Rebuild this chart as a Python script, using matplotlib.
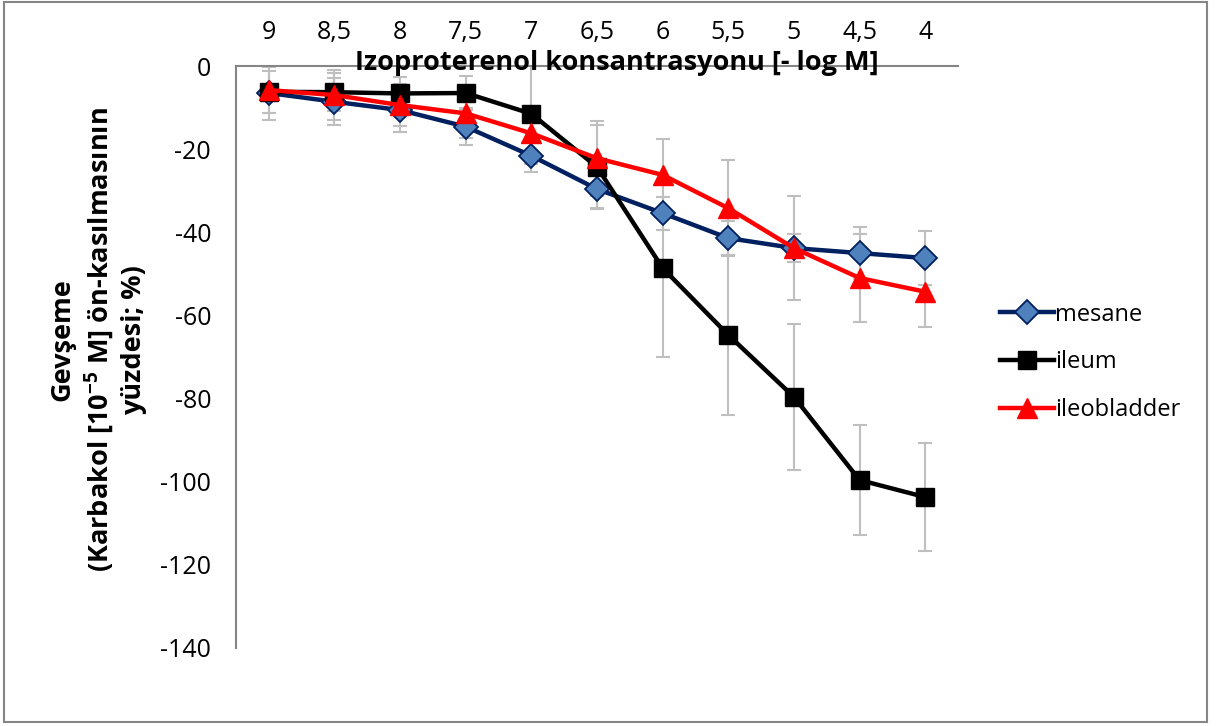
import numpy as np
import matplotlib
matplotlib.use("Agg")
import matplotlib.pyplot as plt
from matplotlib.patches import Rectangle

plt.rcParams['font.family'] = ['Open Sans', 'DejaVu Sans']
plt.rcParams['axes.unicode_minus'] = False
plt.rcParams['mathtext.fontset'] = 'custom'
plt.rcParams['mathtext.rm'] = 'Open Sans'
plt.rcParams['mathtext.bf'] = 'Open Sans:bold'
plt.rcParams['mathtext.default'] = 'bf'

conc_labels = ['9', '8,5', '8', '7,5', '7', '6,5', '6', '5,5', '5', '4,5', '4']

mesane = [-6.5, -8.6, -10.6, -14.6, -21.6, -29.6, -35.4, -41.4, -43.8, -45.0, -46.2]
mesane_err = [6.5, 5.6, 5.3, 4.5, 4.0, 4.5, 4.0, 4.0, 3.3, 6.3, 6.5]

ileum = [-6.2, -6.3, -6.6, -6.5, -11.5, -24.3, -48.6, -64.7, -79.6, -99.6, -103.7]
ileum_err = [5.0, 4.5, 4.0, 4.0, 12.0, 10.0, 21.4, 19.3, 17.6, 13.2, 13.0]

ileobladder = [-5.8, -7.0, -9.4, -11.4, -16.2, -22.2, -26.2, -34.2, -43.8, -51.0, -54.3]
ileobladder_err = [5.5, 6.0, 5.0, 6.0, 6.0, 9.0, 8.6, 11.6, 12.5, 10.7, 8.5]

x = np.arange(1, len(conc_labels) + 1)

fig = plt.figure(figsize=(12.17, 7.26), dpi=100)
ax = fig.add_axes([236 / 1217, 1 - 648 / 726, 722 / 1217, 582 / 726])

err_color = '#BFBFBF'
for vals, errs in [(mesane, mesane_err), (ileum, ileum_err), (ileobladder, ileobladder_err)]:
    ax.errorbar(x, vals, yerr=errs, fmt='none', ecolor=err_color, elinewidth=1.5,
                capsize=5, capthick=1.5, zorder=1)

ax.plot(x, mesane, color='#002060', lw=3.2, marker='D', ms=12,
        mfc='#4F81BD', mec='#002060', mew=1.3, label='mesane', zorder=3)
ax.plot(x, ileum, color='black', lw=3.2, marker='s', ms=13,
        mfc='black', mec='black', label='ileum', zorder=4)
ax.plot(x, ileobladder, color='#FF0000', lw=3.2, marker='^', ms=14,
        mfc='#FF0000', mec='#FF0000', label='ileobladder', zorder=5)

ax.set_xlim(0.5, 11.5)
ax.set_ylim(-140, 0)
ax.set_yticks(np.arange(-140, 1, 20))
ax.set_xticks(x)
ax.set_xticklabels(conc_labels)
ax.xaxis.tick_top()
ax.tick_params(axis='both', length=0, labelsize=18)
ax.tick_params(axis='x', pad=15)
ax.tick_params(axis='y', pad=18)

for side in ['bottom', 'right']:
    ax.spines[side].set_visible(False)
for side in ['left', 'top']:
    ax.spines[side].set_color('#868686')
    ax.spines[side].set_linewidth(1.5)

fig.text(617 / 1217, 1 - 63 / 726, 'Izoproterenol konsantrasyonu [- log M]',
         ha='center', va='center', fontsize=19.5, fontweight='bold', zorder=10)

fig.text(98 / 1217, 1 - 340 / 726,
         'Gevşeme\n(Karbakol [10$^{-5}$ M] ön-kasılmasının\nyüzdesi; %)',
         ha='center', va='center', rotation=90, fontsize=19.5, fontweight='bold',
         multialignment='center', linespacing=1.25)

leg = ax.legend(loc='center left', bbox_to_anchor=(1.045, 0.491), frameon=False,
                fontsize=17, handlelength=2.3, handletextpad=0.05, labelspacing=1.0,
                borderaxespad=0)

fig.patches.append(Rectangle((3.5 / 1217, 4 / 726), 1203 / 1217, 720 / 726,
                             transform=fig.transFigure, fill=False,
                             edgecolor='#868686', lw=1.5))

fig.savefig('out.png', dpi=100)
